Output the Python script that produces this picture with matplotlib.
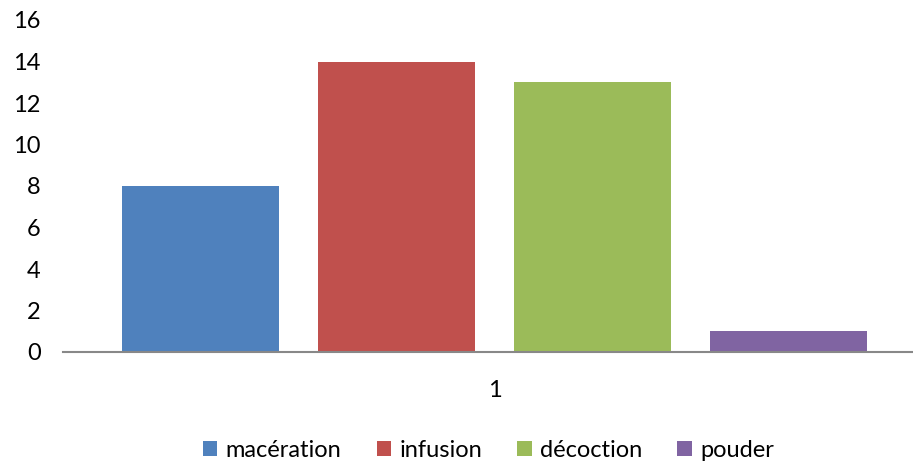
import numpy as np
import matplotlib.pyplot as plt
from matplotlib.patches import Patch

plt.rcParams['font.family'] = ['Lato', 'DejaVu Sans']

# données
series = ["macération", "infusion", "décoction", "pouder"]
values = [8, 14, 13, 1]
colors = ["#4F81BD", "#C0504D", "#9BBB59", "#8064A2"]
categories = ["1"]

fig = plt.figure(figsize=(9.13, 4.63), dpi=100)
ax = fig.add_axes([63 / 913, (463 - 352) / 463, 850 / 913, 332 / 463])

step = 196 / 850
width = 157 / 850
for i, (name, v, c) in enumerate(zip(series, values, colors)):
    ax.bar(1 + (i - 1.5) * step, v, width=width, color=c, label=name)

ax.set_xlim(1 - 431.5 / 850, 1 + 418.5 / 850)
ax.set_ylim(0, 16)
ax.set_yticks(range(0, 17, 2))
ax.set_xticks([1])
ax.set_xticklabels(categories)

for s in ["top", "right", "left"]:
    ax.spines[s].set_visible(False)
ax.spines["bottom"].set_color("#888888")
ax.spines["bottom"].set_linewidth(1.5)
ax.tick_params(axis="y", length=0, pad=16, labelsize=17)
ax.tick_params(axis="x", length=0, pad=20, labelsize=17)

handles = [Patch(facecolor=c, label=n) for n, c in zip(series, colors)]
fig.legend(handles=handles, loc="lower center", bbox_to_anchor=(0.535, -0.042),
           ncol=4, frameon=False, fontsize=17, handlelength=0.6, handleheight=0.6,
           handletextpad=0.35, columnspacing=1.5)

plt.savefig("out.png", dpi=100)
plt.close()
